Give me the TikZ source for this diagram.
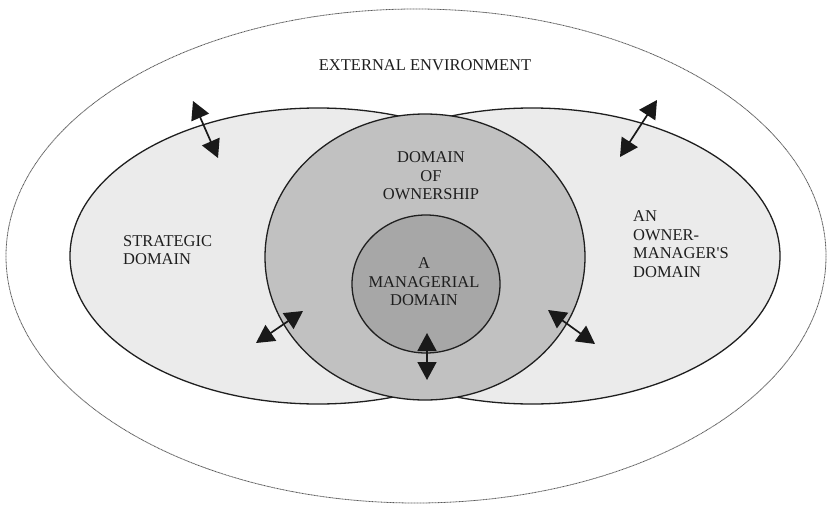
\documentclass[tikz,border=0pt]{standalone}
\usepackage{fontspec}
\setmainfont{Liberation Serif}
\usetikzlibrary{arrows.meta}

\definecolor{domainfill}{HTML}{EBEBEB}
\definecolor{ownfill}{HTML}{C1C1C1}
\definecolor{mgrfill}{HTML}{A7A7A7}
\definecolor{inktext}{HTML}{1E1E1E}

\tikzset{
  boundary/.style={draw=black!88, line width=1.3pt},
  envline/.style={draw=black!65, line width=0.8pt, dash pattern=on 1pt off 0.5pt},
  label/.style={inner sep=0pt, text=inktext, font=\fontsize{16.5}{18.6}\selectfont},
  exchange/.style={draw=black!90, fill=black!90, line width=1.7pt,
    {Triangle[length=18pt,width=19pt]}-{Triangle[length=18pt,width=19pt]}}
}

\begin{document}
\begin{tikzpicture}[x=1pt,y=-1pt]
\useasboundingbox (0,0) rectangle (829,505);
\fill[white] (0,0) rectangle (829,505);

% external environment
\draw[envline] (416,256) ellipse [x radius=410, y radius=247];

% strategic domain and owner-manager's domain
\fill[domainfill] (318,256) ellipse [x radius=248, y radius=148];
\fill[domainfill] (532,256) ellipse [x radius=248, y radius=148];
\draw[boundary] (318,256) ellipse [x radius=248, y radius=148];
\draw[boundary] (532,256) ellipse [x radius=248, y radius=148];

% domain of ownership
\filldraw[boundary, fill=ownfill] (425,257) ellipse [x radius=160, y radius=143];

% managerial domain
\filldraw[boundary, fill=mgrfill] (426,284) ellipse [x radius=74, y radius=69];

% labels
\node[label] (env) at (425,65) {EXTERNAL ENVIRONMENT};
\node[label, anchor=west, align=left] (strat) at (123,250) {STRATEGIC\\DOMAIN};
\node[label, align=center] (own) at (431,176) {DOMAIN\\OF\\OWNERSHIP};
\node[label, align=center] (mgr) at (424,282) {A\\MANAGERIAL\\DOMAIN};
\node[label, anchor=west, align=left] (ownmgr) at (633,244) {AN\\OWNER-\\MANAGER\textquotesingle S\\DOMAIN};

% two-way exchanges across the boundaries
\coordinate (tlA) at (193,101);
\coordinate (tlB) at (218,158);
\coordinate (trA) at (657,100);
\coordinate (trB) at (620,157);
\coordinate (blA) at (303,311);
\coordinate (blB) at (256,343);
\coordinate (brA) at (548,310);
\coordinate (brB) at (595,344);
\coordinate (bcA) at (427,333);
\coordinate (bcB) at (427,380);

\draw[exchange] (tlA) -- (tlB);
\draw[exchange] (trA) -- (trB);
\draw[exchange] (blA) -- (blB);
\draw[exchange] (brA) -- (brB);
\draw[exchange] (bcA) -- (bcB);
\end{tikzpicture}
\end{document}
